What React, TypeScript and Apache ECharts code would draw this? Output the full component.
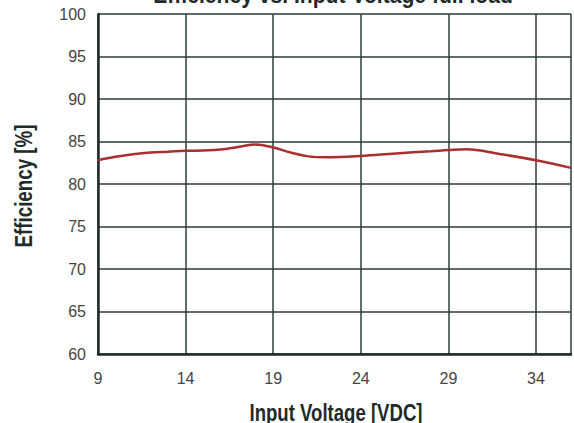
import React, { useEffect, useRef } from "react";
import * as echarts from "echarts";

const voltage = [9, 10, 11, 12, 13, 14, 15, 16, 17, 18, 19, 20, 21, 22, 24, 26, 28, 29, 30, 32, 34, 36];
const efficiency = [82.8, 83.2, 83.5, 83.7, 83.8, 83.9, 83.95, 84.05, 84.35, 84.65, 84.3, 83.7, 83.25, 83.15, 83.3, 83.6, 83.85, 84.0, 84.1, 83.5, 82.8, 81.9];
const titleText = "Efficiency vs. Input Voltage full load";
const xName = "Input Voltage [VDC]";
const yName = "Efficiency [%]";

const FONT = "'Liberation Sans', Arial, sans-serif";

function measure(text: string, font: string): number {
  const c = document.createElement("canvas");
  const ctx = c.getContext("2d");
  if (!ctx) return text.length * 12;
  ctx.font = font;
  return ctx.measureText(text).width;
}

export default function App() {
  const ref = useRef<HTMLDivElement>(null);
  useEffect(() => {
    if (!ref.current) return;
    const chart = echarts.init(ref.current, null, { renderer: "svg" });
    const boldFont = "bold 24px 'Liberation Sans', Arial, sans-serif";
    const sTitle = 360 / measure(titleText, boldFont);
    const sX = 173 / measure(xName, boldFont);
    const sY = 123 / measure(yName, boldFont);
    const nameStyle = (t: string) => ({
      text: t,
      fontFamily: FONT,
      fontWeight: "bold",
      fontSize: 24,
      fill: "#1f2a2a",
      textAlign: "center",
      textVerticalAlign: "middle",
    });
    chart.setOption({
      animation: false,
      backgroundColor: "#ffffff",
      graphic: [
        { type: "text", x: 333, y: -5, scaleX: sTitle, style: nameStyle(titleText) },
        { type: "text", x: 336, y: 413, scaleX: sX, style: nameStyle(xName) },
        { type: "text", x: 24, y: 186, rotation: Math.PI / 2, scaleX: sY, style: nameStyle(yName) },
      ],
      grid: { left: 98, top: 14, right: 0, bottom: 69, containLabel: false },
      xAxis: {
        type: "value",
        min: 9,
        max: 36,
        interval: 5,
        axisLine: { show: true, onZero: false, lineStyle: { color: "#1f2a2a", width: 2.5 } },
        axisTick: { show: false },
        axisLabel: {
          fontFamily: FONT,
          fontSize: 16,
          color: "#444",
          margin: 16,
          formatter: (v: number) => (v === 36 ? "" : String(v)),
        },
        splitLine: { show: true, lineStyle: { color: "#2f3b3b", width: 1.5 } },
      },
      yAxis: {
        type: "value",
        min: 60,
        max: 100,
        interval: 5,
        axisLine: { show: true, lineStyle: { color: "#1f2a2a", width: 2.5 } },
        axisTick: { show: false },
        axisLabel: { fontFamily: FONT, fontSize: 16, color: "#444", margin: 12 },
        splitLine: { show: true, lineStyle: { color: "#2f3b3b", width: 1.5 } },
      },
      series: [
        {
          type: "line",
          data: voltage.map((v, i) => [v, efficiency[i]]),
          smooth: 0.4,
          showSymbol: false,
          lineStyle: { color: "#a8302f", width: 2.5 },
        },
      ],
    });
    return () => chart.dispose();
  }, []);
  return <div ref={ref} style={{ width: 574, height: 423, position: "absolute", left: 0, top: 0 }} />;
}
